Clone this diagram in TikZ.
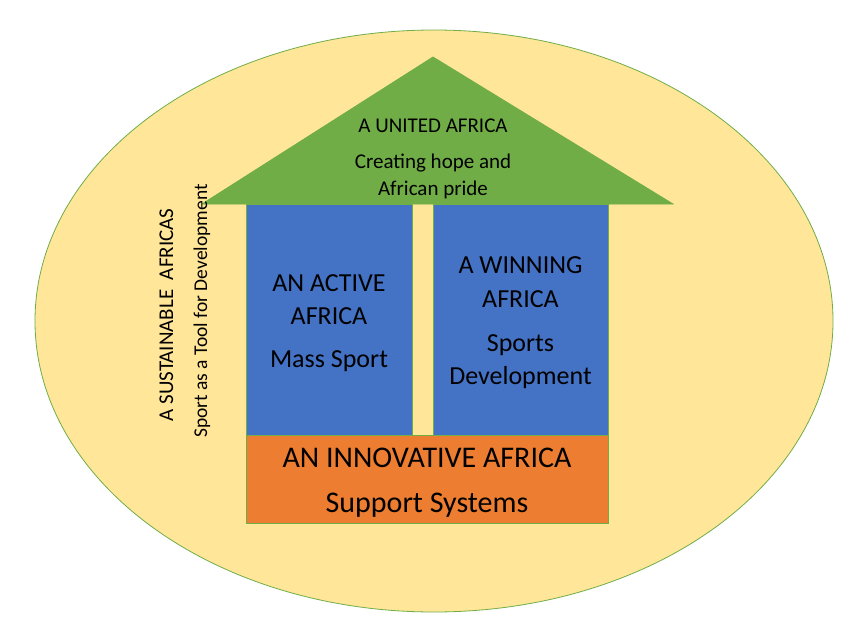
\documentclass[tikz,border=0pt]{standalone}
\usepackage{fontspec}
\setmainfont{Carlito}
\definecolor{bggold}{HTML}{FFE699}
\definecolor{edgegreen}{HTML}{70AD47}
\definecolor{roofgreen}{HTML}{70AD47}
\definecolor{pillarblue}{HTML}{4472C4}
\definecolor{baseorange}{HTML}{ED7D31}
\begin{document}
\begin{tikzpicture}[x=1pt,y=-1pt,
  box/.style={draw=edgegreen, line width=0.8pt, inner sep=0pt, outer sep=0pt, anchor=north west},
  txt/.style={inner sep=0pt, anchor=base, text=black},
  big/.style={txt, font=\fontsize{26}{30}\selectfont},
  huge/.style={txt, font=\fontsize{30}{34}\selectfont},
  small/.style={txt, font=\fontsize{21}{24}\selectfont}]
\useasboundingbox (0,0) rectangle (850,623);
% background ellipse
\draw[fill=bggold, draw=edgegreen, line width=0.8pt] (434,321) ellipse [x radius=399pt, y radius=291pt];
% pillars and base
\node[box, fill=pillarblue, minimum width=166pt, minimum height=231pt] (active) at (246,204) {};
\node[box, fill=pillarblue, minimum width=175pt, minimum height=231pt] (winning) at (433,204) {};
\node[box, fill=baseorange, minimum width=362pt, minimum height=88pt] (innov) at (246,435) {};
% roof
\draw[fill=roofgreen, draw=roofgreen, line width=0.8pt] (202,204) -- (433,57) -- (673,204) -- cycle;
% roof texts
\node[small] (u1) at (433,132.5) {A UNITED AFRICA};
\node[small] (u2) at (433,168) {Creating hope and};
\node[small] (u3) at (433,195) {African pride};
% active
\node[big] (a1) at (329,291) {AN ACTIVE};
\node[big] (a2) at (329,324) {AFRICA};
\node[big] (a3) at (329,367) {Mass Sport};
% winning
\node[big] (w1) at (520.5,273) {A WINNING};
\node[big] (w2) at (520.5,307) {AFRICA};
\node[big] (w3) at (520.5,351) {Sports};
\node[big] (w4) at (520.5,384) {Development};
% innovative
\node[huge] (i1) at (427,467) {AN INNOVATIVE AFRICA};
\node[huge] (i2) at (427,512) {Support Systems};
% sustainable (vertical)
\node[txt, rotate=90, font=\fontsize{21}{24}\selectfont] (s1) at (173,315) {A SUSTAINABLE\ \ AFRICAS};
\node[txt, rotate=90, font=\fontsize{19.5}{22}\selectfont] (s2) at (207,311) {Sport as a Tool for Development};
\end{tikzpicture}
\end{document}
